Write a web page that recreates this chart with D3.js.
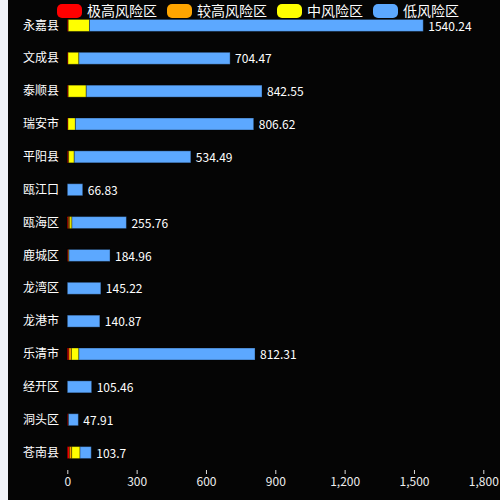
<!DOCTYPE html>
<html>
<head>
<meta charset="utf-8">
<script src="https://cdn.jsdelivr.net/npm/d3@7"></script>
<style>
  html, body { margin: 0; padding: 0; background: #f0f2f8; }
  svg { display: block; }
  text { font-family: "Noto Sans CJK SC", "Microsoft YaHei", sans-serif; }
</style>
</head>
<body>
<svg id="chart" width="500" height="500"></svg>
<script>
var cities = ['永嘉县','文成县','泰顺县','瑞安市','平阳县','瓯江口','瓯海区','鹿城区','龙湾区','龙港市','乐清市','经开区','洞头区','苍南县'];
var totals = [1540.24, 704.47, 842.55, 806.62, 534.49, 66.83, 255.76, 184.96, 145.22, 140.87, 812.31, 105.46, 47.91, 103.7];
var veryHigh = [4, 3, 4, 3, 4, 0, 5, 3, 0, 0, 7, 0, 3, 9];
var high = [0, 0, 0, 0, 2, 0, 6, 4, 0, 0, 11, 0, 2, 10];
var medium = [92, 47, 78, 32, 24, 0, 9, 0, 0, 0, 32, 0, 0, 36];
var low = [1444.24, 654.47, 760.55, 771.62, 504.49, 66.83, 235.76, 177.96, 145.22, 140.87, 762.31, 105.46, 42.91, 48.7];
var keys = ['极高风险区', '较高风险区', '中风险区', '低风险区'];
var colours = ['#ff0000', '#ffa500', '#ffff00', '#5ca8ff'];
var xTicks = [0, 300, 600, 900, 1200, 1500, 1800];

var svg = d3.select("#chart");

// black panel, light strip on the left
svg.append("rect").attr("x", 8).attr("y", 0).attr("width", 492).attr("height", 500).attr("fill", "#050505");

var x = d3.scaleLinear().domain([0, 1800]).range([67.3, 483.3]);
var y = d3.scaleBand().domain(cities).range([9, 469]);

var table = cities.map(function(c, i) {
  return { city: c, '极高风险区': veryHigh[i], '较高风险区': high[i], '中风险区': medium[i], '低风险区': low[i] };
});
var stacked = d3.stack().keys(keys)(table);
var color = d3.scaleOrdinal().domain(keys).range(colours);

var barH = 12;
svg.selectAll("g.series")
  .data(stacked)
  .enter()
  .append("g")
  .attr("class", "series")
  .attr("fill", function(d) { return color(d.key); })
  .selectAll("rect")
  .data(function(d) { return d.filter(function(p) { return p[1] - p[0] > 0; }); })
  .enter()
  .append("rect")
  .attr("x", function(d) { return x(d[0]); })
  .attr("y", function(d) { return y(d.data.city) + y.bandwidth() / 2 - barH / 2; })
  .attr("width", function(d) { return x(d[1]) - x(d[0]); })
  .attr("height", barH)
  .attr("stroke", "rgba(0,0,0,0.35)")
  .attr("stroke-width", 1);

// total labels
svg.selectAll("text.total")
  .data(cities)
  .enter()
  .append("text")
  .attr("class", "total")
  .attr("x", function(d, i) { return x(totals[i]) + 5; })
  .attr("y", function(d) { return y(d) + y.bandwidth() / 2 + 1; })
  .attr("dy", "0.35em")
  .attr("fill", "#fff")
  .style("font-size", "12px")
  .text(function(d, i) { return totals[i]; });

// category labels
svg.selectAll("text.city")
  .data(cities)
  .enter()
  .append("text")
  .attr("class", "city")
  .attr("x", 59)
  .attr("y", function(d) { return y(d) + y.bandwidth() / 2; })
  .attr("dy", "0.35em")
  .attr("text-anchor", "end")
  .attr("fill", "#fff")
  .style("font-size", "12px")
  .text(function(d) { return d; });

// x axis
var xAxis = svg.append("g")
  .attr("transform", "translate(0,470)")
  .call(d3.axisBottom(x).tickValues(xTicks).tickFormat(d3.format(",")).tickSize(4).tickPadding(3));
xAxis.select(".domain").remove();
xAxis.selectAll("line").attr("stroke", "#ddd");
xAxis.selectAll("text").attr("fill", "#eee").style("font-size", "12px")
  .style("font-family", '"Noto Sans CJK SC", sans-serif');

// legend, centred
var legend = svg.append("g");
var lx = 0;
keys.forEach(function(k) {
  var g = legend.append("g").attr("transform", "translate(" + lx + ",0)");
  g.append("rect").attr("x", 0).attr("y", 4).attr("width", 25).attr("height", 14).attr("rx", 5)
    .attr("fill", color(k));
  var t = g.append("text").attr("x", 30).attr("y", 11).attr("dy", "0.35em")
    .attr("fill", "#fff").style("font-size", "14px").text(k);
  lx += 30 + t.node().getComputedTextLength() + 10;
});
var lw = lx - 10;
legend.attr("transform", "translate(" + (258 - lw / 2) + ",0)");
</script>
</body>
</html>
